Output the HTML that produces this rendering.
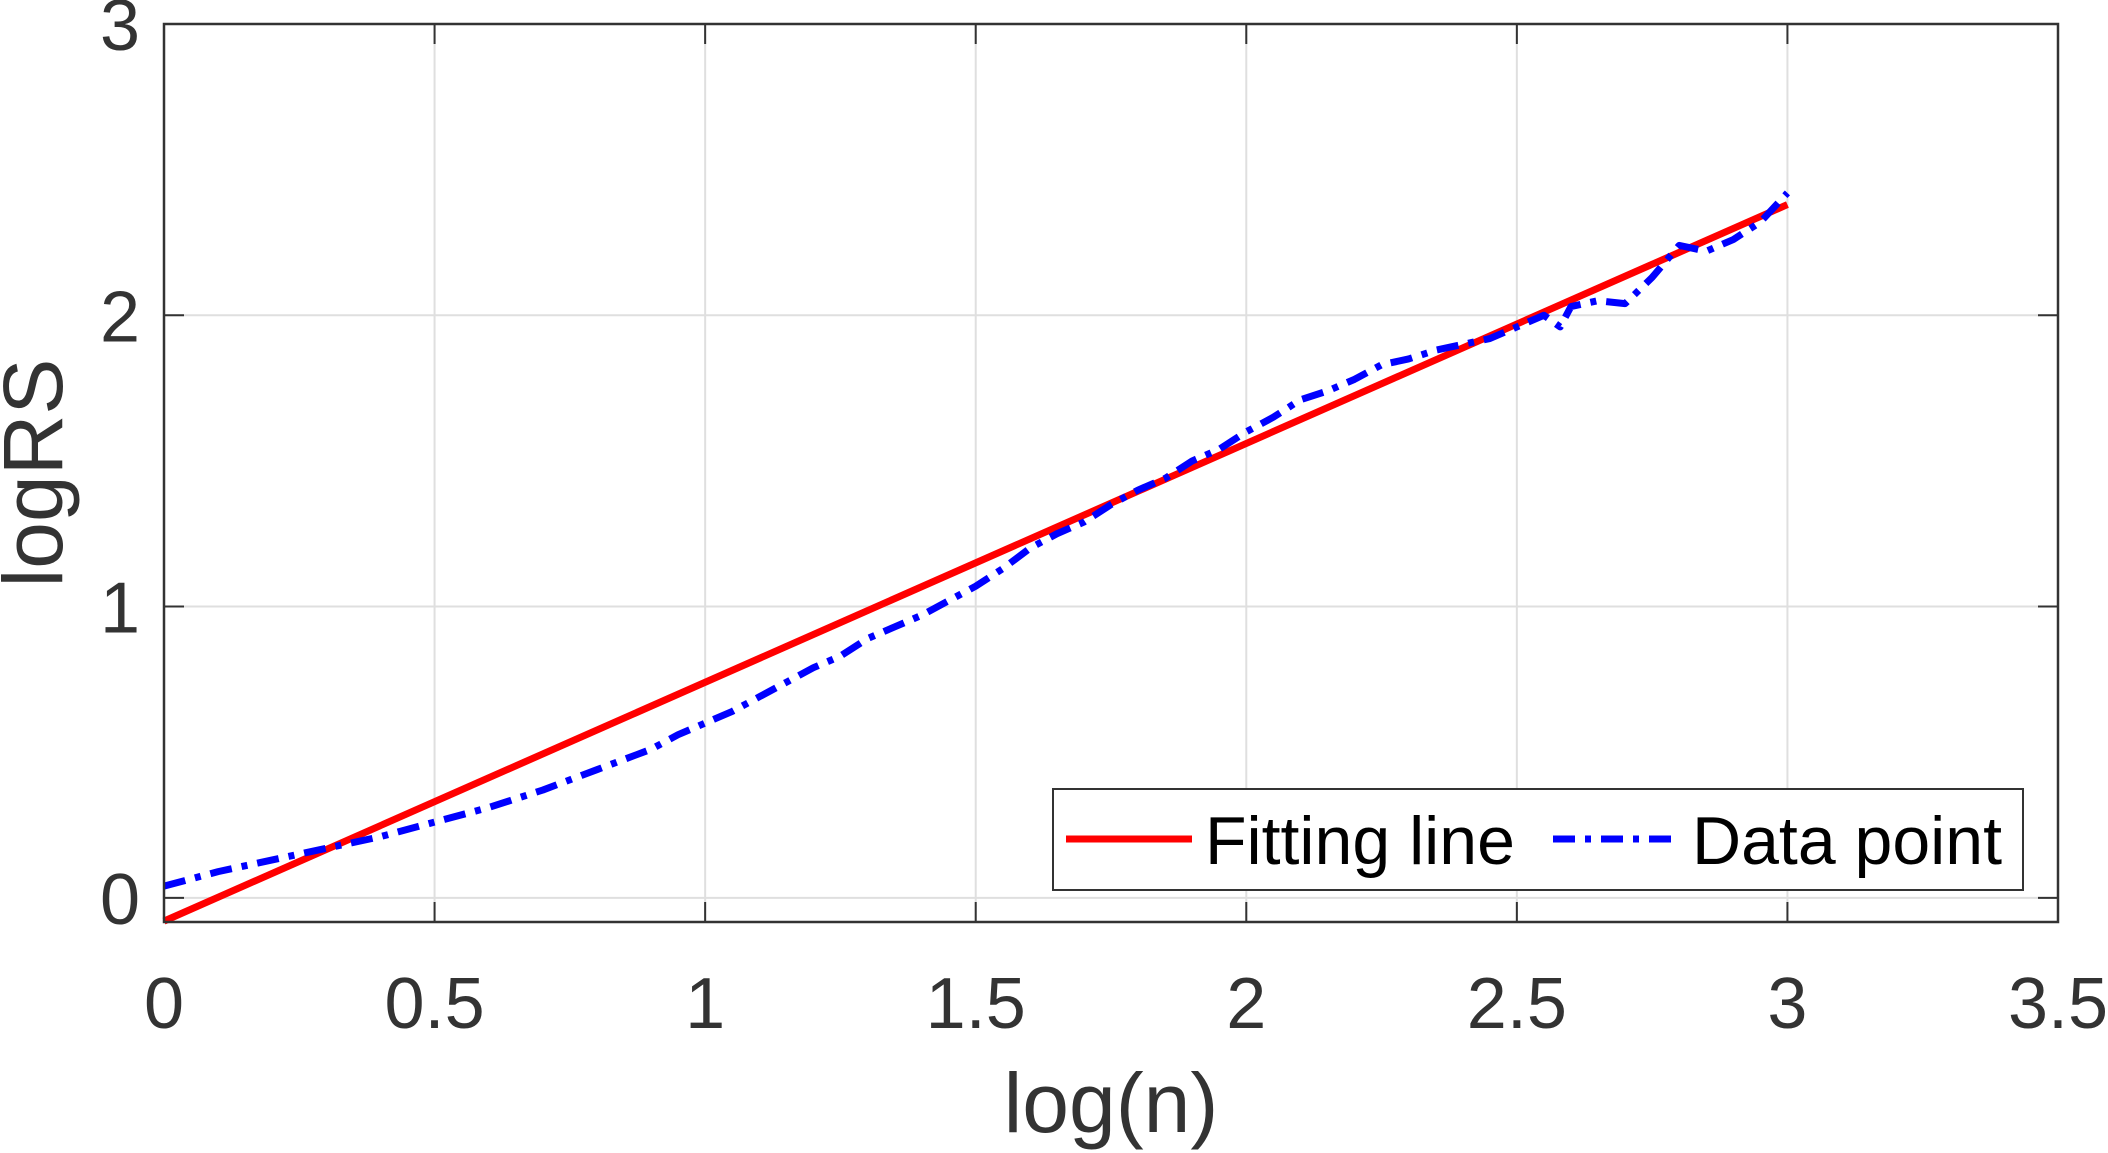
<!DOCTYPE html>
<html><head><meta charset="utf-8"><style>
html,body{margin:0;padding:0;background:#fff;}
svg{display:block;font-family:"Liberation Sans",Arial,sans-serif;}
</style></head><body>
<svg id="chart" width="2108" height="1153" viewBox="0 0 2108 1153" xmlns="http://www.w3.org/2000/svg">
<g id="grid"></g>
<g id="series"></g>
<g id="axes"></g>
<text x="1111" y="1132" font-size="84" fill="#333" text-anchor="middle">log(n)</text>
<text transform="translate(62,473) rotate(-90)" font-size="84" fill="#333" text-anchor="middle">logRS</text>
<g>
<rect x="1053" y="789" width="970" height="101" fill="#fff" stroke="#333" stroke-width="2"/>
<line x1="1066" y1="839" x2="1192" y2="839" stroke="#f00" stroke-width="7"/>
<text x="1205" y="864" font-size="68" fill="#000">Fitting line</text>
<line x1="1553" y1="839" x2="1679" y2="839" stroke="#00f" stroke-width="7" stroke-dasharray="22,10,6,10"/>
<text x="1692" y="864" font-size="68" fill="#000">Data point</text>
</g>
</svg>
<script>
const xTicks=[0,0.5,1,1.5,2,2.5,3,3.5];
const xTickLabels=["0","0.5","1","1.5","2","2.5","3","3.5"];
const yTicks=[0,1,2,3];
const yTickLabels=["0","1","2","3"];
const fitX=[0,3];
const fitY=[-0.08,2.38];
const dataX=[0,0.1,0.2,0.3,0.4,0.5,0.6,0.7,0.8,0.9,0.95,1,1.05,1.1,1.15,1.2,1.25,1.3,1.35,1.4,1.45,1.5,1.55,1.6,1.65,1.7,1.75,1.8,1.85,1.9,1.95,2,2.05,2.1,2.15,2.2,2.25,2.3,2.35,2.4,2.45,2.5,2.55,2.58,2.6,2.65,2.7,2.75,2.8,2.85,2.9,2.95,3];
const dataY=[0.04,0.09,0.13,0.17,0.21,0.26,0.31,0.37,0.44,0.51,0.56,0.6,0.64,0.69,0.74,0.79,0.83,0.89,0.93,0.97,1.02,1.07,1.13,1.2,1.25,1.29,1.35,1.4,1.44,1.5,1.54,1.6,1.65,1.71,1.74,1.78,1.83,1.85,1.88,1.9,1.92,1.96,2.0,1.96,2.03,2.05,2.04,2.13,2.24,2.22,2.26,2.32,2.42];
const L=164,R=2058,T=24,B=922;
const xmin=0,xmax=3.5,ymin=-0.083,ymax=3;
const sx=v=>L+(v-xmin)/(xmax-xmin)*(R-L);
const sy=v=>B-(v-ymin)/(ymax-ymin)*(B-T);
const NS="http://www.w3.org/2000/svg";
function mk(tag,attrs,parent){const e=document.createElementNS(NS,tag);for(const k in attrs)e.setAttribute(k,attrs[k]);parent.appendChild(e);return e;}
const grid=document.getElementById('grid'),axes=document.getElementById('axes'),series=document.getElementById('series');
xTicks.forEach((v,i)=>{
 const x=sx(v);
 const g=mk('line',{x1:x,y1:T,x2:x,y2:B,stroke:'#dfdfdf','stroke-width':2},grid);
 
 
 const t1=mk('line',{x1:x,y1:B,x2:x,y2:B-20,stroke:'#333','stroke-width':2},axes);
 
 
 const t2=mk('line',{x1:x,y1:T,x2:x,y2:T+20,stroke:'#333','stroke-width':2},axes);
 
 
 const tx=mk('text',{x:x,y:1028,'font-size':72,fill:'#333','text-anchor':'middle'},axes);
 tx.textContent=xTickLabels[i];
 
 
});
yTicks.forEach((v,i)=>{
 const y=sy(v);
 const g=mk('line',{x1:L,y1:y,x2:R,y2:y,stroke:'#dfdfdf','stroke-width':2},grid);
 
 
 const t1=mk('line',{x1:L,y1:y,x2:L+20,y2:y,stroke:'#333','stroke-width':2},axes);
 
 
 const t2=mk('line',{x1:R,y1:y,x2:R-20,y2:y,stroke:'#333','stroke-width':2},axes);
 
 
 const tx=mk('text',{x:140,y:y+26,'font-size':72,fill:'#333','text-anchor':'end'},axes);
 tx.textContent=yTickLabels[i];
 
 
});
const frame=mk('rect',{x:L,y:T,width:R-L,height:B-T,fill:'none',stroke:'#333','stroke-width':2.5},axes);


const fit=mk('polyline',{points:fitX.map((x,i)=>sx(x)+','+sy(fitY[i])).join(' '),fill:'none',stroke:'#f00','stroke-width':7},series);


const dp=mk('polyline',{points:dataX.map((x,i)=>sx(x)+','+sy(dataY[i])).join(' '),fill:'none',stroke:'#00f','stroke-width':7,'stroke-dasharray':'22,10,6,10','stroke-linejoin':'round'},series);


</script>
</body></html>
